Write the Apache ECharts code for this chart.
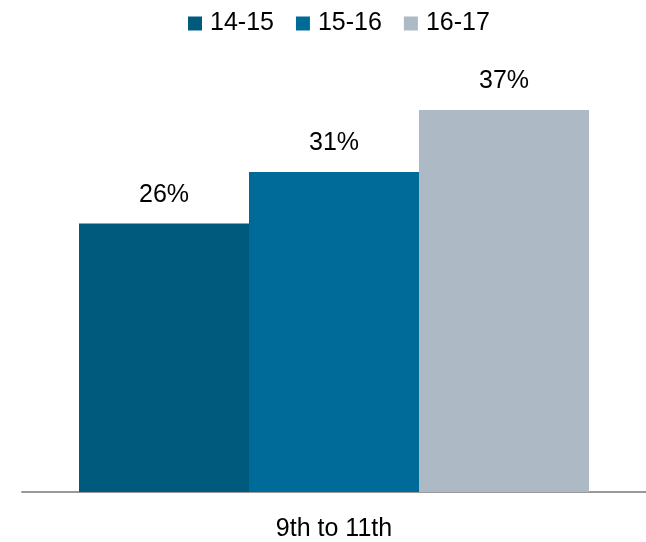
<!DOCTYPE html>
<html><head><meta charset="utf-8">
<script src="https://cdn.jsdelivr.net/npm/echarts@6/dist/echarts.min.js"></script>
<style>html,body{margin:0;padding:0;background:#fff}#c{width:646px;height:542px}</style>
</head><body><div id="c"></div>
<script>
const categories = ['9th to 11th'];
const seriesNames = ['14-15', '15-16', '16-17'];
const values1415 = [26];
const values1516 = [31];
const values1617 = [37];
const colors = ['#005A7E', '#006B99', '#ADB9C5'];
const font = 'Liberation Sans, Arial, sans-serif';
const chart = echarts.init(document.getElementById('c'));
const data = [values1415, values1516, values1617];
chart.setOption({
  animation: false,
  legend: {
    top: 6, left: 183, itemWidth: 14, itemHeight: 14, itemGap: 22,
    icon: 'rect',
    textStyle: {fontFamily: font, fontSize: 25, color: '#000', padding: [0, 0, 0, 3]},
    data: seriesNames
  },
  grid: {left: 22, right: 0, top: 79, bottom: 47},
  xAxis: {
    type: 'category', data: categories,
    axisLine: {lineStyle: {color: '#999', width: 2}},
    axisTick: {show: false},
    axisLabel: {fontFamily: font, fontSize: 25, color: '#000', margin: 25}
  },
  yAxis: {type: 'value', min: 0, max: 40, show: false, splitLine: {show: false}},
  series: seriesNames.map((n, i) => ({
    name: n, type: 'bar', data: data[i], barWidth: 170, barGap: '0%',
    itemStyle: {color: colors[i]},
    label: {show: true, position: 'top', distance: 16, formatter: '{c}%',
      fontFamily: font, fontSize: 25, color: '#000'}
  }))
});
</script></body></html>
